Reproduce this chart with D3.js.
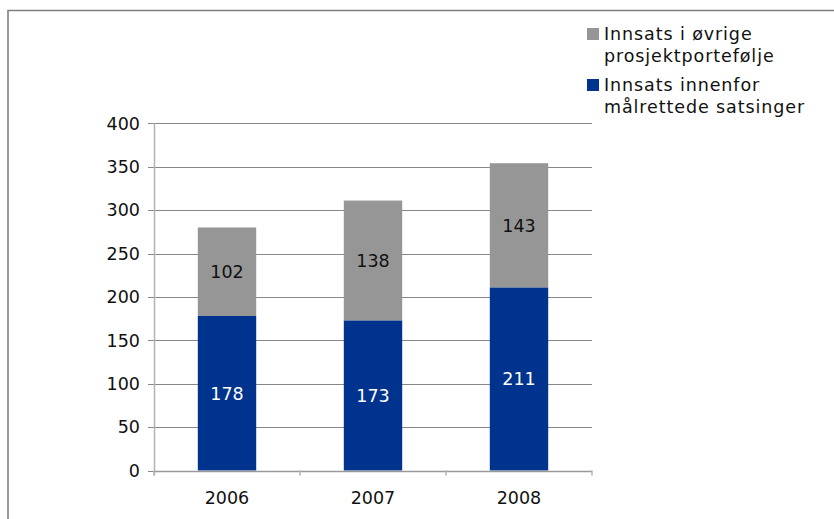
<!DOCTYPE html>
<html>
<head>
<meta charset="utf-8">
<script src="https://cdn.jsdelivr.net/npm/d3@7"></script>
<style>
  body { margin: 0; background: #fff; }
  svg { display: block; font-family: "DejaVu Sans", Verdana, sans-serif; }
</style>
</head>
<body>
<div class="container"></div>
<script>
// data
const years = ["2006", "2007", "2008"];
const malrettede = [178, 173, 211]; // Innsats innenfor målrettede satsinger
const ovrige = [102, 138, 143];     // Innsats i øvrige prosjektportefølje
const yTicks = [0, 50, 100, 150, 200, 250, 300, 350, 400];

const width = 834;
const height = 519;
const margin = { top: 123.3, right: 242, bottom: 48.5, left: 154 };

const svg = d3.select(".container")
  .append("svg")
  .attr("width", width)
  .attr("height", height);

// outer frame (only top and left edges are visible)
svg.append("path")
  .attr("d", `M8,${height}V10.5H${width}`)
  .attr("fill", "none")
  .attr("stroke", "#808080")
  .attr("stroke-width", 1.6);

const x = d3.scaleBand()
  .domain(years)
  .range([margin.left, width - margin.right])
  .paddingInner(0.6)
  .paddingOuter(0.3);

const y = d3.scaleLinear()
  .domain([0, 400])
  .range([height - margin.bottom, margin.top]);

// gridlines
svg.append("g")
  .selectAll("line")
  .data(yTicks)
  .join("line")
  .attr("x1", margin.left - 6)
  .attr("x2", width - margin.right)
  .attr("y1", (d) => Math.round(y(d)) + 0.5)
  .attr("y2", (d) => Math.round(y(d)) + 0.5)
  .attr("stroke", "#888")
  .attr("stroke-width", 1.2);

// y axis labels
svg.append("g")
  .selectAll("text")
  .data(yTicks)
  .join("text")
  .attr("x", margin.left - 14)
  .attr("y", (d) => y(d))
  .attr("dy", "0.36em")
  .attr("text-anchor", "end")
  .attr("font-size", 17.5)
  .attr("fill", "#111")
  .text((d) => d);

// y axis line
svg.append("line")
  .attr("x1", margin.left + 0.5)
  .attr("x2", margin.left + 0.5)
  .attr("y1", y(400))
  .attr("y2", y(0) + 5)
  .attr("stroke", "#b3b3b3")
  .attr("stroke-width", 1.5);

// bars
const stacked = years.map((yr, i) => ({ year: yr, low: malrettede[i], high: ovrige[i] }));

const bar = svg.append("g")
  .selectAll("g")
  .data(stacked)
  .join("g");

bar.append("rect")
  .attr("x", (d) => x(d.year))
  .attr("width", x.bandwidth())
  .attr("y", (d) => y(d.low))
  .attr("height", (d) => y(0) - y(d.low))
  .attr("fill", "#00338d");

bar.append("rect")
  .attr("x", (d) => x(d.year))
  .attr("width", x.bandwidth())
  .attr("y", (d) => y(d.low + d.high))
  .attr("height", (d) => y(d.low) - y(d.low + d.high))
  .attr("fill", "#969696");

bar.append("text")
  .attr("x", (d) => x(d.year) + x.bandwidth() / 2)
  .attr("y", (d) => y(d.low / 2))
  .attr("dy", "0.36em")
  .attr("text-anchor", "middle")
  .attr("font-size", 17.5)
  .attr("fill", "#fff")
  .text((d) => d.low);

bar.append("text")
  .attr("x", (d) => x(d.year) + x.bandwidth() / 2)
  .attr("y", (d) => y(d.low + d.high / 2))
  .attr("dy", "0.36em")
  .attr("text-anchor", "middle")
  .attr("font-size", 17.5)
  .attr("fill", "#111")
  .text((d) => d.high);

// x axis
const x0 = y(0);
svg.append("line")
  .attr("x1", margin.left)
  .attr("x2", width - margin.right)
  .attr("y1", Math.round(x0) + 0.5)
  .attr("y2", Math.round(x0) + 0.5)
  .attr("stroke", "#999")
  .attr("stroke-width", 1.5);

svg.append("g")
  .selectAll("line")
  .data(d3.range(years.length + 1))
  .join("line")
  .attr("x1", (i) => margin.left + i * (width - margin.right - margin.left) / years.length)
  .attr("x2", (i) => margin.left + i * (width - margin.right - margin.left) / years.length)
  .attr("y1", x0)
  .attr("y2", x0 + 5)
  .attr("stroke", "#b3b3b3")
  .attr("stroke-width", 1.5);

svg.append("g")
  .selectAll("text")
  .data(years)
  .join("text")
  .attr("x", (d) => x(d) + x.bandwidth() / 2)
  .attr("y", x0 + 33)
  .attr("text-anchor", "middle")
  .attr("font-size", 17.5)
  .attr("fill", "#111")
  .text((d) => d);

// legend
const legend = svg.append("g").attr("transform", "translate(587,28)");
const legendItems = [
  { color: "#969696", lines: ["Innsats i øvrige", "prosjektportefølje"] },
  { color: "#00338d", lines: ["Innsats innenfor", "målrettede satsinger"] },
];

legendItems.forEach((item, i) => {
  const g = legend.append("g").attr("transform", `translate(0,${i * 51})`);
  g.append("rect")
    .attr("width", 12)
    .attr("height", 12)
    .attr("fill", item.color);
  g.append("text")
    .attr("x", 17)
    .attr("y", 12)
    .attr("font-size", 17.5)
    .attr("letter-spacing", 0.9)
    .attr("fill", "#111")
    .selectAll("tspan")
    .data(item.lines)
    .join("tspan")
    .attr("x", 17)
    .attr("dy", (d, j) => (j === 0 ? 0 : 22))
    .text((d) => d);
});
</script>
</body>
</html>
